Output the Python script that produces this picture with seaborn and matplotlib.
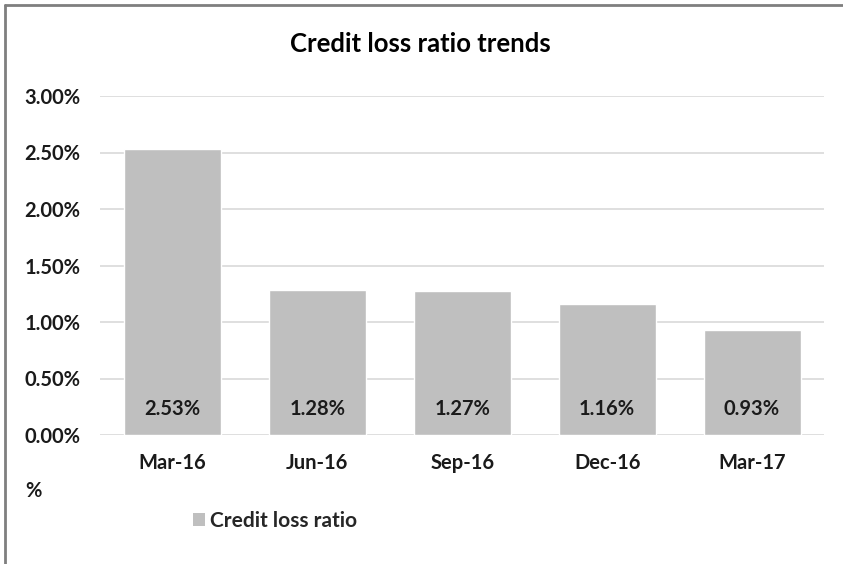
import matplotlib
matplotlib.use("Agg")
import matplotlib.pyplot as plt
import seaborn as sns
import pandas as pd
from matplotlib.ticker import FuncFormatter, MultipleLocator
from matplotlib.lines import Line2D
from matplotlib.patches import Patch

categories = ["Mar-16", "Jun-16", "Sep-16", "Dec-16", "Mar-17"]
values = [2.53, 1.28, 1.27, 1.16, 0.93]
series_name = "Credit loss ratio"
title = "Credit loss ratio trends"

sns.set_theme(style="white")
plt.rcParams['font.family'] = ['Lato', 'DejaVu Sans']

df = pd.DataFrame({"period": categories, "ratio": values})

fig = plt.figure(figsize=(8.43, 5.64), dpi=100)
ax = fig.add_axes([100/843, 129/564, 724.5/843, 339/564])

bar_color = "#BFBFBF"
fs = 14.5
sns.barplot(data=df, x="period", y="ratio", color=bar_color, width=0.67,
            saturation=1, ax=ax, zorder=2)

ax.set_ylim(0, 3.0)
ax.set_xlim(-0.5, len(categories) - 0.5)
ax.yaxis.set_major_locator(MultipleLocator(0.5))
ax.yaxis.set_major_formatter(FuncFormatter(lambda v, p: f"{v:.2f}%"))
ax.grid(axis="y", color="#D9D9D9", linewidth=1.2, zorder=0)
ax.set_axisbelow(True)
for s in ax.spines.values():
    s.set_visible(False)
ax.set_xlabel("")
ax.set_ylabel("")
ax.tick_params(axis="y", length=0, pad=14, labelsize=fs, labelcolor="#1a1a1a")
ax.tick_params(axis="x", length=0, pad=13, labelsize=fs, labelcolor="#1a1a1a")
for lab in ax.get_xticklabels() + ax.get_yticklabels():
    lab.set_fontweight("bold")

bars = ax.containers[0]
for patch, v in zip(bars.patches, values):
    cx = patch.get_x() + patch.get_width() / 2
    ax.text(cx, 0.23, f"{v:.2f}%", ha="center", va="center",
            fontsize=fs, fontweight="bold", color="#1a1a1a", zorder=3)

fig.text(420/843, 1 - 44/564, title, ha="center", va="center",
         fontsize=18.5, fontweight="bold", color="#000000")
fig.text(33/843, 1 - 491/564, "%", ha="center", va="center",
         fontsize=fs, fontweight="bold", color="#1a1a1a")

handles = [Patch(facecolor=bar_color, edgecolor="none", label=series_name)]
fig.legend(handles=handles, loc="center left", bbox_to_anchor=(174/843, 1 - 521/564),
           frameon=False, handlelength=0.6, handleheight=0.6, handletextpad=0.25,
           prop={"weight": "bold", "size": fs + 0.5})

fig.add_artist(Line2D([5/843, 5/843], [0, 1 - 5/564], color="#7F7F7F", lw=2,
                      transform=fig.transFigure))
fig.add_artist(Line2D([5/843, 1], [1 - 5/564, 1 - 5/564], color="#7F7F7F", lw=2,
                      transform=fig.transFigure))

fig.savefig("out.png", dpi=100, facecolor="white")
